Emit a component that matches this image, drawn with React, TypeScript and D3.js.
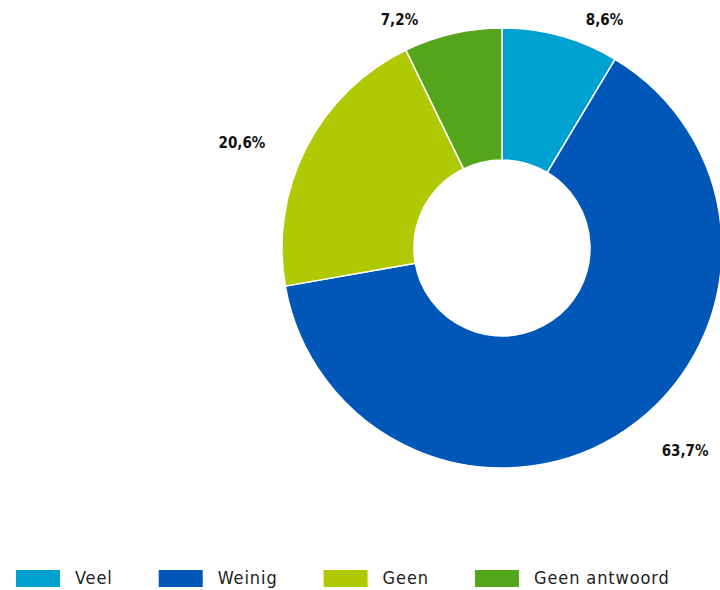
import { useEffect, useRef } from 'react';
import * as d3 from 'd3';

const categories = ['Veel', 'Weinig', 'Geen', 'Geen antwoord'];
const values = [8.6, 63.7, 20.6, 7.2];
const colors = ['#00a0d0', '#0057b8', '#afca05', '#55a51c'];

const W = 720;
const H = 590;
const FONT = "'DejaVu Sans Condensed', 'Liberation Sans Narrow', sans-serif";

export default function App() {
  const svgRef = useRef<SVGSVGElement>(null);

  useEffect(() => {
    if (!svgRef.current) return;
    const svg = d3.select(svgRef.current);
    svg.selectAll('*').remove();

    const cx = 502;
    const cy = 248;
    const outer = 220;
    const inner = 88;

    const pie = d3.pie<number>().sort(null).value(d => d);
    const arcs = pie(values);
    const arc = d3.arc<d3.PieArcDatum<number>>().innerRadius(inner).outerRadius(outer);

    const g = svg.append('g').attr('transform', `translate(${cx},${cy})`);

    g.selectAll('path')
      .data(arcs)
      .enter()
      .append('path')
      .attr('d', arc)
      .attr('fill', (_, i) => colors[i])
      .attr('stroke', '#fff')
      .attr('stroke-width', 1.5)
      .attr('stroke-linejoin', 'round');

    // Data labels, placed outside the ring, clamped to the top of the plot
    const labelR = 250;
    const minY = 20 - cy;
    arcs.forEach((a, i) => {
      const mid = (a.startAngle + a.endAngle) / 2;
      let x = labelR * Math.sin(mid);
      let y = -labelR * Math.cos(mid);
      let anchor = 'middle';
      if (y < minY) {
        y = minY;
        x = Math.sign(x) * Math.sqrt(labelR * labelR - y * y);
      } else {
        anchor = x > 0 ? 'start' : 'end';
        x += x > 0 ? 18 : -14;
        y += x > 0 ? -3 : 8;
      }
      g.append('text')
        .attr('x', x)
        .attr('y', y)
        .attr('dy', '0.35em')
        .attr('text-anchor', anchor)
        .style('font-family', FONT)
        .style('font-size', '15px')
        .style('font-weight', 'bold')
        .style('fill', '#111')
        .text(values[i].toFixed(1).replace('.', ',') + '%');
    });

    // Legend
    const legend = svg.append('g').attr('transform', `translate(16,${H - 12})`);
    let lx = 0;
    categories.forEach((c, i) => {
      const item = legend.append('g').attr('transform', `translate(${lx},0)`);
      item.append('rect')
        .attr('x', 0)
        .attr('y', -8)
        .attr('width', 44)
        .attr('height', 17)
        .attr('fill', colors[i]);
      const t = item.append('text')
        .attr('x', 59)
        .attr('y', 0)
        .attr('dy', '0.35em')
        .style('font-family', FONT)
        .style('font-size', '18px')
        .style('letter-spacing', '0.9px')
        .style('fill', '#222')
        .text(c);
      const tw = (t.node() as SVGTextElement).getComputedTextLength();
      lx += 59 + tw + 46;
    });
  }, []);

  return (
    <svg
      ref={svgRef}
      width={W}
      height={H}
      style={{ position: 'absolute', left: 0, top: 0, background: '#fff' }}
    />
  );
}
